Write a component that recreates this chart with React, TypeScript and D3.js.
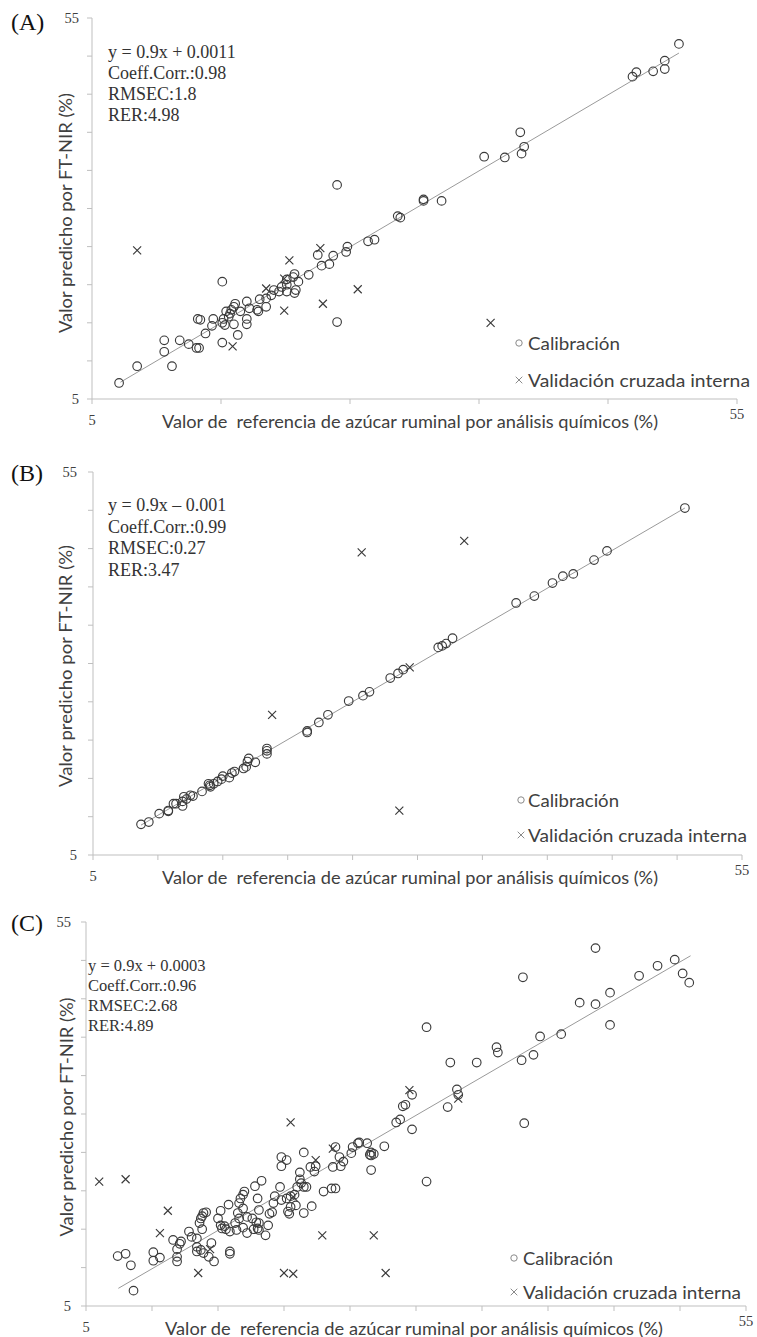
import React from 'react';
import * as d3 from 'd3';

type Pt = [number, number];

// ---------- DATA ----------
const calA: Pt[] = [
  [50.5, 51.6], [49.4, 49.4], [49.4, 48.3], [48.5, 48.0], [47.2, 47.9], [46.9, 47.3], [38.2, 40.0], [38.5, 38.1],
  [38.3, 37.2], [37.0, 36.7], [35.4, 36.8], [30.7, 31.2], [30.7, 31.0], [32.1, 31.0], [28.7, 29.0], [28.9, 28.8],
  [26.4, 25.7], [26.9, 25.9], [24.0, 33.1], [24.8, 25.0], [24.7, 24.3], [23.7, 23.8], [23.4, 22.7], [22.8, 22.5],
  [22.5, 23.9], [21.8, 21.3], [20.7, 21.4], [20.6, 21.0], [21.0, 20.4], [20.1, 20.7], [20.1, 20.0], [19.7, 19.7],
  [20.8, 19.3], [20.7, 18.9], [20.1, 19.1], [19.5, 19.1], [19.1, 19.3], [18.9, 18.6], [18.5, 18.2], [18.0, 18.1],
  [18.5, 17.1], [17.9, 16.5], [17.8, 16.7], [17.2, 16.9], [17.0, 17.8], [17.0, 15.5], [17.0, 14.8], [16.5, 16.5],
  [16.1, 17.5], [16.0, 17.1], [15.8, 16.7], [15.7, 16.2], [15.4, 16.5], [15.6, 15.8], [15.2, 15.5], [15.1, 20.4],
  [15.1, 15.0], [15.3, 14.7], [16.0, 14.8], [16.3, 13.4], [15.1, 12.4], [14.4, 15.5], [14.3, 14.6], [13.4, 15.4],
  [13.2, 15.5], [13.8, 13.6], [12.5, 12.2], [13.1, 11.7], [13.3, 11.7], [11.8, 12.7], [10.6, 12.7], [10.6, 11.2],
  [11.2, 9.3], [8.5, 9.3], [7.1, 7.1], [24.0, 15.1],
];
const valA: Pt[] = [
  [8.5, 24.5], [22.7, 24.8], [20.3, 23.2], [19.9, 20.8], [18.5, 19.5], [19.9, 16.6], [22.9, 17.5], [25.6, 19.4],
  [15.9, 11.9], [35.9, 15.0],
];
const fitA: Pt[] = [[7.2, 7.2], [50.5, 50.4]];
const statsA = ['y = 0.9x + 0.0011', 'Coeff.Corr.:0.98', 'RMSEC:1.8', 'RER:4.98'];

const calB: Pt[] = [
  [50.6, 50.3], [44.6, 44.7], [43.6, 43.5], [42.0, 41.7], [41.2, 41.4], [40.4, 40.5], [39.0, 38.8], [37.6, 37.9],
  [32.7, 33.3], [32.2, 32.6], [31.9, 32.3], [31.6, 32.1], [27.9, 28.1], [28.5, 28.7], [28.9, 29.2], [26.3, 26.3],
  [25.8, 25.8], [24.7, 25.1], [23.1, 23.3], [22.4, 22.3], [21.5, 21.2], [21.5, 21.0], [18.4, 18.9], [18.4, 18.6],
  [18.4, 18.2], [17.5, 17.1], [17.0, 17.6], [16.9, 17.2], [16.6, 16.3], [16.8, 16.5], [15.9, 15.9], [15.7, 15.7],
  [15.5, 15.1], [15.0, 15.3], [14.9, 14.9], [14.6, 14.6], [14.3, 14.3], [14.0, 14.1], [14.05, 13.9], [13.9, 14.3],
  [13.4, 13.3], [12.7, 12.7], [12.5, 12.8], [12.2, 12.3], [12.0, 12.6], [11.9, 12.0], [11.9, 11.4], [11.4, 11.7],
  [11.2, 11.7], [10.8, 10.8], [10.8, 10.7], [10.1, 10.4], [9.3, 9.3], [8.7, 9.0],
];
const valB: Pt[] = [[33.6, 46.0], [25.7, 44.5], [29.4, 29.5], [28.6, 10.8], [18.8, 23.3]];
const fitB: Pt[] = [[8.7, 8.9], [50.6, 50.3]];
const statsB = ['y = 0.9x \u2013 0.001', 'Coeff.Corr.:0.99', 'RMSEC:0.27', 'RER:3.47'];

const calC: Pt[] = [
  [43.6, 51.6], [49.6, 50.1], [48.3, 49.3], [46.9, 48.0], [50.2, 48.3], [50.7, 47.1], [38.1, 47.8], [44.7, 45.8],
  [42.4, 44.5], [43.6, 44.3], [44.7, 41.6], [30.8, 41.3], [41.0, 40.4], [39.4, 40.1], [36.1, 38.7], [36.2, 38.0],
  [38.0, 37.0], [38.9, 37.7], [34.6, 36.7], [32.6, 36.7], [33.1, 33.2], [33.2, 32.5], [29.7, 32.5],
  [32.4, 30.9], [29.0, 31.0], [29.2, 31.2], [28.8, 29.3], [28.5, 28.9], [29.7, 28.0], [27.6, 25.8], [26.6, 25.0],
  [26.8, 24.8], [26.6, 24.6], [26.6, 22.7], [30.8, 21.2], [38.2, 28.8],
  [7.4, 11.5], [8.0, 11.8], [8.4, 10.3], [8.6, 7.0], [10.1, 12.0], [10.1, 10.9], [10.6, 11.3], [11.6, 13.6],
  [11.9, 12.4], [11.9, 11.4], [11.9, 10.8], [12.1, 13.1], [12.2, 13.4], [12.8, 14.7], [13.0, 14.0], [13.4, 13.8],
  [13.4, 12.7], [13.4, 12.1], [13.7, 12.3], [13.9, 11.9], [14.3, 11.4], [14.7, 10.8], [14.5, 13.2], [13.6, 15.8],
  [13.7, 16.4], [13.8, 16.7], [13.9, 17.1], [14.1, 17.2], [13.8, 15.0], [15.0, 16.4], [15.2, 17.4], [15.2, 15.5],
  [15.3, 15.1], [15.5, 15.4], [15.6, 15.0], [15.9, 14.7], [15.8, 18.2], [15.9, 12.1], [15.9, 11.8], [16.3, 15.8],
  [16.4, 14.9], [16.5, 17.1], [16.6, 16.4], [16.6, 18.4], [16.7, 19.0], [16.9, 19.5], [17.0, 19.9], [16.9, 17.7],
  [17.2, 16.6], [16.9, 15.2], [17.2, 14.5], [17.6, 16.4], [17.7, 15.0], [17.9, 15.9], [18.0, 15.1], [18.1, 17.5],
  [18.0, 19.0], [17.8, 20.6], [18.3, 21.3], [18.1, 15.8], [18.1, 14.9], [18.6, 14.2], [18.8, 15.5], [18.9, 17.0],
  [19.1, 17.2], [19.2, 18.4], [19.3, 19.3], [19.7, 20.5], [19.8, 18.8], [19.8, 23.2], [19.8, 24.4], [20.2, 24.0],
  [20.2, 19.0], [20.3, 17.3], [20.4, 17.0], [20.5, 17.9], [20.5, 19.3], [20.8, 19.5], [20.9, 18.1], [21.0, 20.5],
  [21.2, 22.4], [21.2, 21.5], [21.3, 21.0], [21.5, 20.5], [21.5, 17.1], [21.5, 25.0], [21.7, 20.5], [22.1, 18.0],
  [22.0, 23.1], [22.3, 22.5], [22.4, 23.2], [23.0, 19.9], [23.6, 20.3], [23.9, 20.3], [23.7, 23.1], [23.9, 25.7],
  [24.2, 24.4], [24.3, 23.2], [24.5, 23.8], [25.2, 25.7], [25.1, 24.9], [25.6, 26.2], [25.7, 26.3], [26.3, 26.2],
  [26.5, 24.7],
];
const valC: Pt[] = [
  [29.5, 33.1], [33.2, 32.0], [26.8, 14.2], [27.7, 9.3], [6.0, 21.2], [8.0, 21.5], [11.2, 17.4], [10.6, 14.5],
  [13.5, 9.3], [14.4, 12.4], [20.0, 9.3], [20.7, 9.2], [20.5, 28.9], [22.4, 24.0], [22.9, 14.2], [23.7, 25.5],
  [20.7, 19.2],
];
const fitC: Pt[] = [[7.45, 7.3], [50.8, 50.6]];
const statsC = ['y = 0.9x + 0.0003', 'Coeff.Corr.:0.96', 'RMSEC:2.68', 'RER:4.89'];

const xTicksA = [5, 15, 25, 35, 45, 55];
const xTicksBC = [5, 10, 15, 20, 25, 30, 35, 40, 45, 50, 55];
const yTicks = [5, 10, 15, 20, 25, 30, 35, 40, 45, 50, 55];
const domain: Pt = [5, 55];

const yTitle = 'Valor predicho por FT-NIR (%)';
const xTitle = 'Valor de  referencia de azúcar ruminal por análisis químicos (%)';
const legendCal = 'Calibración';
const legendVal = 'Validación cruzada interna';

// ---------- LAYOUT ----------
interface PanelCfg {
  label: string;
  cal: Pt[];
  val: Pt[];
  fit: Pt[];
  stats: string[];
  xTicks: number[];
  x0: number; x1: number; yTop: number; yBot: number;
  labelY: number;
  yLabelEnd: number;
  statsX: number; statsY: number; statsStep: number; statsSize: number;
  yTitleX: number; yTitleC: number; yTitleLen: number;
  xTitleC: number; xTitleLen: number;
  legX: number; legTX: number; legY1: number; legY2: number; legCalLen: number; legValLen: number;
}

const panels: PanelCfg[] = [
  {
    label: '(A)', cal: calA, val: valA, fit: fitA, stats: statsA, xTicks: xTicksA,
    x0: 92, x1: 737, yTop: 18, yBot: 399, labelY: 30, yLabelEnd: 79,
    statsX: 108, statsY: 58, statsStep: 21, statsSize: 18,
    yTitleX: 65, yTitleC: 213, yTitleLen: 240, xTitleC: 410, xTitleLen: 496,
    legX: 519, legTX: 528, legY1: 343, legY2: 380, legCalLen: 92, legValLen: 222,
  },
  {
    label: '(B)', cal: calB, val: valB, fit: fitB, stats: statsB, xTicks: xTicksBC,
    x0: 93, x1: 742, yTop: 472, yBot: 855, labelY: 481, yLabelEnd: 77,
    statsX: 108, statsY: 511, statsStep: 21.7, statsSize: 18,
    yTitleX: 65, yTitleC: 666, yTitleLen: 242, xTitleC: 410, xTitleLen: 496,
    legX: 521, legTX: 528, legY1: 800, legY2: 835, legCalLen: 91, legValLen: 219,
  },
  {
    label: '(C)', cal: calC, val: valC, fit: fitC, stats: statsC, xTicks: xTicksBC,
    x0: 86, x1: 746, yTop: 922, yBot: 1306, labelY: 931, yLabelEnd: 71,
    statsX: 88, statsY: 971, statsStep: 20, statsSize: 16.5,
    yTitleX: 66, yTitleC: 1117, yTitleLen: 239, xTitleC: 414, xTitleLen: 498,
    legX: 514, legTX: 523, legY1: 1258, legY2: 1292, legCalLen: 90, legValLen: 218,
  },
];

const AXIS = '#bfbfbf';
const MARK = '#3a3a3a';
const TEXT = '#404040';
const SANS = 'Lato, "Open Sans", "Liberation Sans", sans-serif';
const SERIF = '"Liberation Serif", "DejaVu Serif", serif';

function Panel({ p }: { p: PanelCfg }) {
  const x = d3.scaleLinear().domain(domain).range([p.x0, p.x1]);
  const y = d3.scaleLinear().domain(domain).range([p.yBot, p.yTop]);
  const line = d3.line<Pt>().x((d) => x(d[0])).y((d) => y(d[1]));
  const cross = (cx: number, cy: number, h: number) =>
    `M${cx - h},${cy - h}L${cx + h},${cy + h}M${cx - h},${cy + h}L${cx + h},${cy - h}`;
  return (
    <g>
      {/* axes */}
      <line x1={p.x0} x2={p.x0} y1={y(55)} y2={y(5)} stroke={AXIS} strokeWidth={1} />
      <line x1={p.x0} x2={p.x1} y1={y(5)} y2={y(5)} stroke={AXIS} strokeWidth={1} />
      {yTicks.map((t) => (
        <line key={'yt' + t} x1={p.x0 - 5} x2={p.x0} y1={y(t)} y2={y(t)} stroke={AXIS} strokeWidth={1} />
      ))}
      {p.xTicks.map((t) => (
        <line key={'xt' + t} x1={x(t)} x2={x(t)} y1={y(5)} y2={y(5) + 5} stroke={AXIS} strokeWidth={1} />
      ))}
      {/* tick labels */}
      <text x={p.yLabelEnd} y={y(55) + 5} textAnchor="end" fontFamily={SERIF} fontSize={14.5} fill={TEXT}>55</text>
      <text x={p.yLabelEnd} y={y(5) + 5} textAnchor="end" fontFamily={SERIF} fontSize={14.5} fill={TEXT}>5</text>
      <text x={x(5)} y={y(5) + 26} textAnchor="middle" fontFamily={SERIF} fontSize={14.5} fill={TEXT}>5</text>
      <text x={x(55)} y={y(5) + 20} textAnchor="middle" fontFamily={SERIF} fontSize={14.5} fill={TEXT}>55</text>
      {/* panel label */}
      <text x={11} y={p.labelY} fontFamily={SERIF} fontSize={24} fill="#111">{p.label}</text>
      {/* titles */}
      <text
        transform={`translate(${p.yTitleX},${p.yTitleC}) rotate(-90)`}
        textAnchor="middle" dominantBaseline="central" fontFamily={SANS} fontSize={17} fill={TEXT}
        textLength={p.yTitleLen} lengthAdjust="spacingAndGlyphs"
      >{yTitle}</text>
      <text
        x={p.xTitleC} y={y(5) + 22} textAnchor="middle" dominantBaseline="central" fontFamily={SANS}
        fontSize={17} fill={TEXT} textLength={p.xTitleLen} lengthAdjust="spacingAndGlyphs"
        style={{ whiteSpace: 'pre' }}
      >{xTitle}</text>
      {/* stats */}
      {p.stats.map((s, i) => (
        <text key={'s' + i} x={p.statsX} y={p.statsY + i * p.statsStep} fontFamily={SERIF} fontSize={p.statsSize} fill="#333">{s}</text>
      ))}
      {/* fit line */}
      <path d={line(p.fit) || ''} stroke="#9a9a9a" strokeWidth={1} fill="none" />
      {/* calibration points */}
      {p.cal.map((d, i) => (
        <circle key={'c' + i} cx={x(d[0])} cy={y(d[1])} r={4.3} fill="none" stroke={MARK} strokeWidth={1.15} />
      ))}
      {/* validation points */}
      {p.val.map((d, i) => (
        <path key={'v' + i} d={cross(x(d[0]), y(d[1]), 4)} stroke={MARK} strokeWidth={1.15} fill="none" />
      ))}
      {/* legend */}
      <circle cx={p.legX} cy={p.legY1} r={3.2} fill="none" stroke="#8a8a8a" strokeWidth={1} />
      <text x={p.legTX} y={p.legY1} dominantBaseline="central" fontFamily={SANS} fontSize={18} fill={TEXT}
        textLength={p.legCalLen} lengthAdjust="spacingAndGlyphs">{legendCal}</text>
      <path d={cross(p.legX, p.legY2, 3.3)} stroke="#8a8a8a" strokeWidth={1} fill="none" />
      <text x={p.legTX} y={p.legY2} dominantBaseline="central" fontFamily={SANS} fontSize={18} fill={TEXT}
        textLength={p.legValLen} lengthAdjust="spacingAndGlyphs">{legendVal}</text>
    </g>
  );
}

export default function App() {
  return (
    <svg width={757} height={1337} viewBox="0 0 757 1337"
      style={{ position: 'absolute', left: 0, top: 0, background: '#fff', display: 'block' }}>
      <rect x={0} y={0} width={757} height={1337} fill="#fff" />
      {panels.map((p) => <Panel key={p.label} p={p} />)}
    </svg>
  );
}
